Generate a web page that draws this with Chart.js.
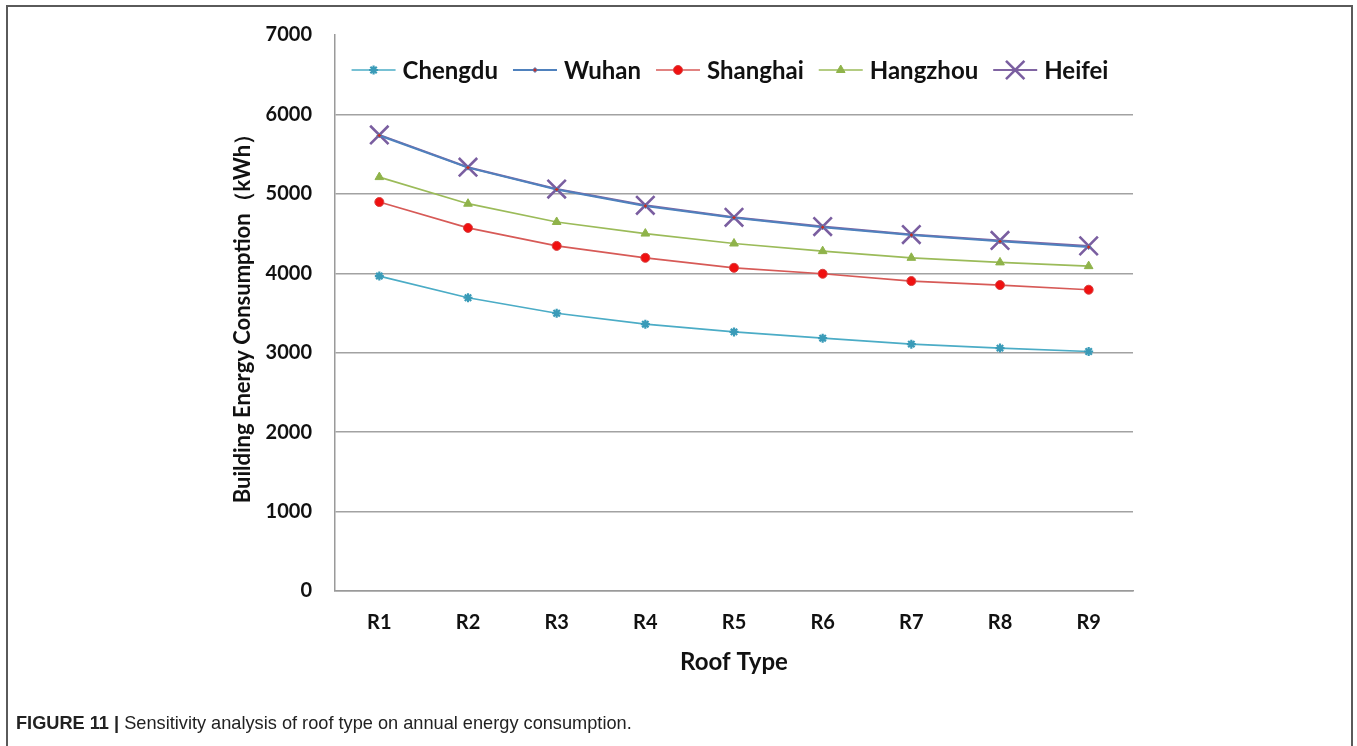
<!DOCTYPE html>
<html>
<head>
<meta charset="utf-8">
<script src="https://cdn.jsdelivr.net/npm/chart.js@4.4.0/dist/chart.umd.min.js"></script>
<style>
  html, body { margin: 0; padding: 0; background: #fff; }
  #wrap { position: relative; width: 1357px; height: 746px; overflow: hidden; }
  #frame { position: absolute; left: 6px; top: 5px; width: 1347px; height: 780px; border: 2px solid #5a5a5a; box-sizing: border-box; }
  #chart { position: absolute; left: 0; top: 0; }
  #caption { position: absolute; left: 16px; top: 713px; font-family: "Liberation Sans", Arial, sans-serif; font-size: 18.2px; color: #222; white-space: nowrap; }
  #caption b { font-weight: bold; }
</style>
</head>
<body>
<div id="wrap">
  <div id="frame"></div>
  <canvas id="chart" width="1357" height="746"></canvas>
  <div id="caption"><b>FIGURE 11 |</b> Sensitivity analysis of roof type on annual energy consumption.</div>
</div>
<script>
// Roof types on the category axis
const roofTypes = ['R1', 'R2', 'R3', 'R4', 'R5', 'R6', 'R7', 'R8', 'R9'];

// Annual building energy consumption (kWh) per city
const chengdu  = [3965, 3692, 3497, 3359, 3262, 3183, 3108, 3058, 3015];
const wuhan    = [5735, 5330, 5055, 4848, 4700, 4580, 4482, 4402, 4330];
const shanghai = [4897, 4571, 4345, 4195, 4069, 3994, 3902, 3852, 3793];
const hangzhou = [5211, 4876, 4646, 4500, 4375, 4279, 4195, 4137, 4090];
const heifei   = [5742, 5336, 5060, 4856, 4705, 4588, 4488, 4413, 4345];

// Y axis tick values
const yTicks = [0, 1000, 2000, 3000, 4000, 5000, 6000, 7000];

const FONT = 'Lato, "Noto Sans", sans-serif';

const datasets = [
  { label: 'Chengdu', data: chengdu, borderColor: '#4bacc6', backgroundColor: '#4bacc6',
    pointStyle: 'star', pointRadius: 4.5, pointBorderColor: '#3a9bb8', pointBorderWidth: 2.2, borderWidth: 1.7 },
  { label: 'Wuhan', data: wuhan, borderColor: '#4f81bd', backgroundColor: '#c0302c',
    pointStyle: 'rectRot', pointRadius: 2.5, pointBorderColor: '#4f81bd', pointBorderWidth: 1, borderWidth: 2 },
  { label: 'Shanghai', data: shanghai, borderColor: '#d75a57', backgroundColor: '#f01010',
    pointStyle: 'circle', pointRadius: 4.5, pointBorderColor: '#d84040', pointBorderWidth: 1, borderWidth: 1.7 },
  { label: 'Hangzhou', data: hangzhou, borderColor: '#9bbb59', backgroundColor: '#8fb34a',
    pointStyle: 'triangle', pointRadius: 5, pointBorderColor: '#8fb34a', pointBorderWidth: 1, borderWidth: 1.7 },
  { label: 'Heifei', data: heifei, borderColor: '#8064a2', backgroundColor: '#8064a2',
    pointStyle: 'crossRot', pointRadius: 13, pointBorderColor: '#7a5ea0', pointBorderWidth: 2.6, borderWidth: 2 }
];
datasets.forEach(d => { d.fill = false; d.tension = 0; d.pointHoverRadius = d.pointRadius; });

// Legend drawn as a row of line samples with their markers, inside the plot top
const lineLegend = {
  id: 'lineLegend',
  afterDatasetsDraw(chart) {
    const ctx = chart.ctx;
    const y = 70, sample = 44, gap = 7, itemGap = 15;
    ctx.save();
    ctx.font = 'bold 24px ' + FONT;
    const items = chart.data.datasets.map(ds => ({ ds, w: ctx.measureText(ds.label).width }));
    const total = items.reduce((s, it) => s + sample + gap + it.w, 0) + itemGap * (items.length - 1);
    let x = 730 - total / 2;
    items.forEach(({ ds, w }) => {
      ctx.strokeStyle = ds.borderColor;
      ctx.lineWidth = ds.borderWidth;
      ctx.beginPath();
      ctx.moveTo(x, y);
      ctx.lineTo(x + sample, y);
      ctx.stroke();
      ctx.fillStyle = ds.backgroundColor;
      ctx.strokeStyle = ds.pointBorderColor;
      ctx.lineWidth = ds.pointBorderWidth;
      Chart.helpers.drawPoint(ctx, { pointStyle: ds.pointStyle, radius: ds.pointRadius, rotation: 0, borderWidth: ds.pointBorderWidth }, x + sample / 2, y);
      ctx.fillStyle = '#111';
      ctx.textBaseline = 'middle';
      ctx.textAlign = 'left';
      ctx.fillText(ds.label, x + sample + gap, y + 1);
      x += sample + gap + w + itemGap;
    });
    ctx.restore();
  }
};

new Chart(document.getElementById('chart'), {
  type: 'line',
  data: { labels: roofTypes, datasets },
  plugins: [lineLegend],
  options: {
    responsive: false,
    animation: false,
    layout: { padding: { left: 218, right: 224, top: 32, bottom: 69 } },
    plugins: { legend: { display: false }, tooltip: { enabled: false } },
    scales: {
      x: {
        offset: true,
        grid: { display: false, drawTicks: false },
        border: { display: true, color: '#9a9a9a', width: 1.5 },
        ticks: { color: '#111', font: { family: FONT, size: 20, weight: 'bold' }, padding: 20 },
        title: { display: true, text: 'Roof Type', color: '#111', font: { family: FONT, size: 24, weight: 'bold' }, padding: { top: 16, bottom: 0 } },
        afterFit(s) { s.height = 86; }
      },
      y: {
        min: 0, max: 7000,
        afterBuildTicks(s) { s.ticks = yTicks.map(v => ({ value: v })); },
        grid: {
          drawTicks: false,
          lineWidth: 1.5,
          color: ctx => (ctx.tick && ctx.tick.value === 7000) ? 'rgba(0,0,0,0)' : '#a2a2a2'
        },
        border: { display: true, color: '#9a9a9a', width: 1.5 },
        ticks: { color: '#111', font: { family: FONT, size: 20, weight: 'bold' }, padding: 23, callback: v => String(v) },
        title: { display: true, text: 'Building Energy Consumption（kWh）', color: '#111', font: { family: FONT, size: 22, weight: 'bold' }, padding: { top: 12, bottom: 0 } },
        afterFit(s) { s.width = 117; }
      }
    }
  }
});
</script>
</body>
</html>
